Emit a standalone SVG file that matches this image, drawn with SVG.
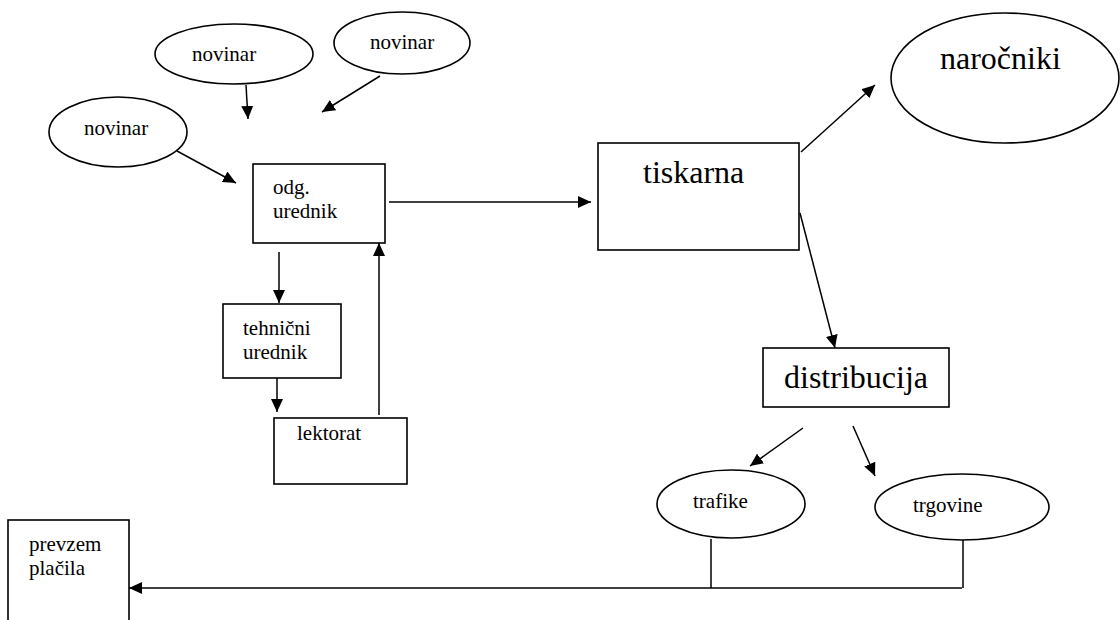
<svg xmlns="http://www.w3.org/2000/svg" width="1120" height="620" viewBox="0 0 1120 620">
<defs>
<marker id="ah" markerUnits="userSpaceOnUse" markerWidth="14" markerHeight="12" refX="13" refY="6" orient="auto">
<path d="M0,0 L13,6 L0,12 z" fill="#000"/>
</marker>
<style>
.n{fill:#fff;stroke:#000;stroke-width:1.6}
.t{font-family:"Liberation Serif","Times New Roman",serif;fill:#000;font-size:21px}
.b{font-size:32px}
.c line,.c path{stroke:#000;stroke-width:1.5;fill:none}
.a{marker-end:url(#ah)}
</style>
</defs>
<rect width="1120" height="620" fill="#fff"/>
<g id="novinar2"><ellipse class="n" cx="234" cy="54" rx="79" ry="30"/><text class="t" x="192" y="61">novinar</text></g>
<g id="novinar3"><ellipse class="n" cx="402" cy="43" rx="68" ry="31"/><text class="t" x="370" y="49">novinar</text></g>
<g id="novinar1"><ellipse class="n" cx="118" cy="132" rx="69" ry="35"/><text class="t" x="84" y="135">novinar</text></g>
<g id="odg"><rect class="n" x="253" y="164" width="132" height="79"/><text class="t" x="273" y="194">odg.</text><text class="t" x="273" y="218">urednik</text></g>
<g id="tiskarna"><rect class="n" x="598" y="143" width="201" height="107"/><text class="t b" x="643" y="183">tiskarna</text></g>
<g id="narocniki"><ellipse class="n" cx="1005" cy="78" rx="114" ry="65"/><text class="t b" x="940" y="69">naročniki</text></g>
<g id="distribucija"><rect class="n" x="763" y="348" width="186" height="59"/><text class="t b" x="784" y="388">distribucija</text></g>
<g id="trafike"><ellipse class="n" cx="731" cy="504" rx="74" ry="34"/><text class="t" x="693" y="508">trafike</text></g>
<g id="trgovine"><ellipse class="n" cx="962" cy="507" rx="87" ry="33"/><text class="t" x="913" y="512">trgovine</text></g>
<g id="tehnicni"><rect class="n" x="223" y="304" width="118" height="74"/><text class="t" x="243" y="335">tehnični</text><text class="t" x="243" y="359">urednik</text></g>
<g id="lektorat"><rect class="n" x="274" y="418" width="133" height="66"/><text class="t" x="297" y="440">lektorat</text></g>
<g id="prevzem"><rect class="n" x="8" y="520" width="121" height="120"/><text class="t" x="29" y="551">prevzem</text><text class="t" x="29" y="575">plačila</text></g>
<g id="connectors" class="c">
<line class="a" x1="246" y1="85" x2="248" y2="119"/>
<line class="a" x1="380" y1="76" x2="322" y2="112"/>
<line class="a" x1="177" y1="151" x2="236" y2="183"/>
<line class="a" x1="389" y1="202" x2="591" y2="202"/>
<line class="a" x1="801" y1="152" x2="875" y2="85"/>
<line class="a" x1="800" y1="213" x2="835" y2="348"/>
<line class="a" x1="279" y1="252" x2="279" y2="303"/>
<line class="a" x1="277" y1="378" x2="277" y2="412"/>
<line class="a" x1="379" y1="415" x2="379" y2="243"/>
<line class="a" x1="803" y1="428" x2="750" y2="466"/>
<line class="a" x1="853" y1="426" x2="875" y2="476"/>
<line x1="711" y1="539" x2="711" y2="588"/>
<line x1="963" y1="540" x2="963" y2="588"/>
<line class="a" x1="962" y1="588" x2="129" y2="588"/>
</g>
</svg>
